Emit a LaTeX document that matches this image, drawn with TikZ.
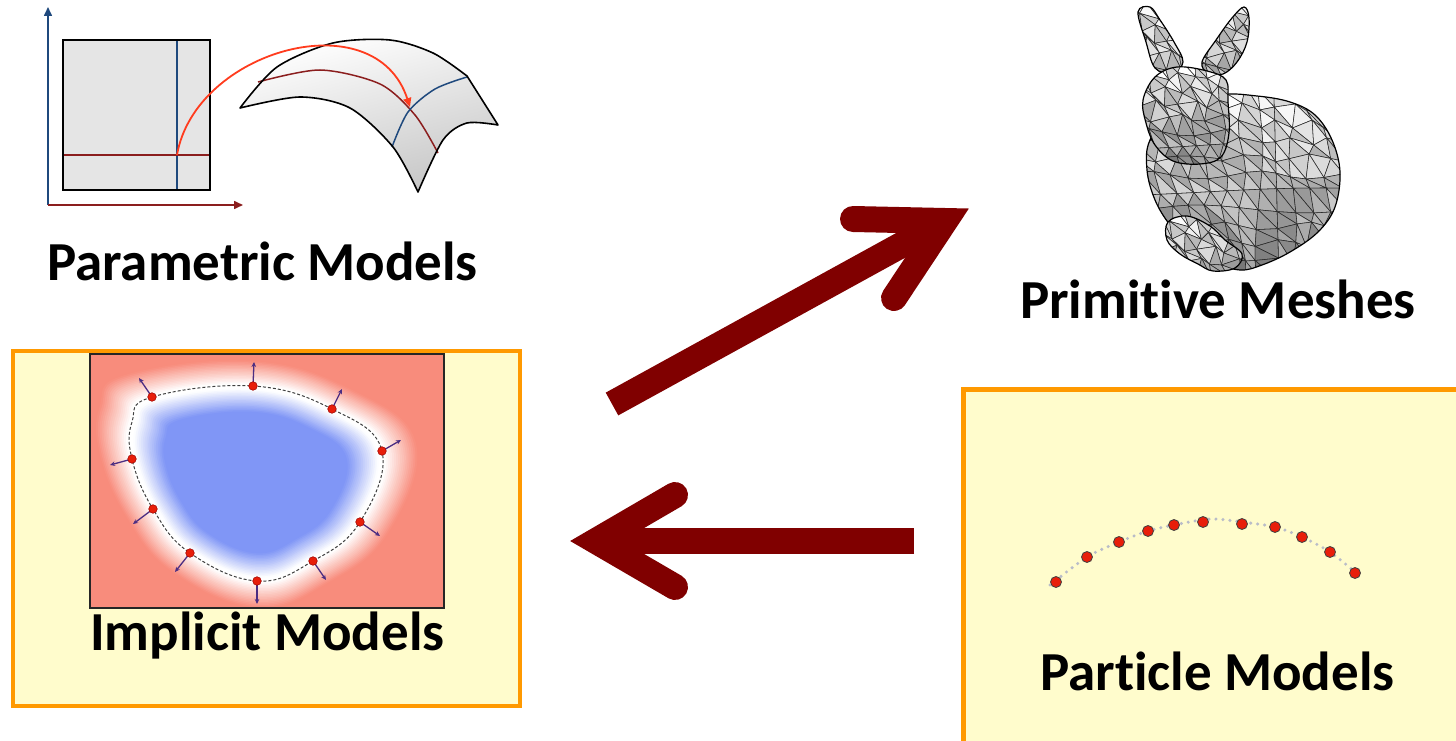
\documentclass[tikz,border=0pt]{standalone}
\usepackage{fontspec}
\setmainfont{Carlito}[Ligatures={NoCommon,NoContextual}, RawFeature={-liga;-calt;-dlig;-clig}]
\usetikzlibrary{arrows.meta}

\definecolor{boxorange}{RGB}{255,153,0}
\definecolor{boxfill}{RGB}{255,252,204}
\definecolor{arrowmaroon}{RGB}{128,0,0}
\definecolor{fieldsalmon}{RGB}{248,140,124}
\definecolor{fieldblue}{RGB}{128,150,246}
\definecolor{axisblue}{RGB}{31,73,125}
\definecolor{axisred}{RGB}{139,30,30}
\definecolor{pathred}{RGB}{255,60,30}
\definecolor{dotred}{RGB}{232,30,10}
\definecolor{normalpurple}{RGB}{75,45,130}
\definecolor{trailgray}{RGB}{185,188,200}

% "t" followed by "i" without the font's joined glyph
\newcommand\ti{t\kern0pt i}

% one jittered vertex of a triangle grid: x0, y0, cell, i, j, name
\newcommand\meshvertex[6]{%
  \pgfmathsetmacro\vx{#1+(#4)*#3+4*sin(37*(#4)*(#5)+131*(#4)+71*(#5))}%
  \pgfmathsetmacro\vy{#2+(#5)*#3+4*cos(43*(#4)*(#5)+89*(#4)+113*(#5))}%
  \coordinate (#6) at (\vx,\vy);}

% a meshed part of the bunny: outline, x0, y0, nx, ny, cell, base shade, shade gradient
\newcommand\bunnypart[8]{%
  \begin{scope}
    \clip plot[smooth cycle, tension=0.6] coordinates {#1};
    \fill[white] (#2,#3) rectangle ++({(#4+1)*#6},{(#5+1)*#6});
    \foreach \i in {0,...,#4}{%
      \foreach \j in {0,...,#5}{%
        \pgfmathtruncatemacro\ip{\i+1}%
        \pgfmathtruncatemacro\jp{\j+1}%
        \meshvertex{#2}{#3}{#6}{\i}{\j}{pA}%
        \meshvertex{#2}{#3}{#6}{\ip}{\j}{pB}%
        \meshvertex{#2}{#3}{#6}{\i}{\jp}{pC}%
        \meshvertex{#2}{#3}{#6}{\ip}{\jp}{pD}%
        \pgfmathtruncatemacro\ga{min(75,#7+#8*\j/#5+20*(0.5+0.5*sin(211*\i+157*\j+29*\i*\j)))}%
        \pgfmathtruncatemacro\gb{min(75,#7+#8*\j/#5+20*(0.5+0.5*cos(173*\i+97*\j+41*\i*\j)))}%
        \filldraw[meshedge, fill=black!\ga!white] (pA) -- (pB) -- (pD) -- cycle;
        \filldraw[meshedge, fill=black!\gb!white] (pA) -- (pD) -- (pC) -- cycle;
      }}
  \end{scope}
  \draw[line width=1.2, line join=round] plot[smooth cycle, tension=0.6] coordinates {#1};}

% one ring of the implicit field
\newcommand\fieldring[1]{%
  \fill[#1] plot[smooth cycle, tension=0.7] coordinates {(-102,-83) (-1,-94) (78,-71) (128,-29) (106,42) (59,81) (3,101) (-64,73) (-101,29) (-122,-21) (-122,-58)};}

% outline of the parametric surface patch
\newcommand\surfacepatch[1]{%
  \path[#1] (240,108) -- plot[smooth] coordinates {(240,108) (277,67) (333,43) (390,40) (433,53) (467,76)}
  -- (498,125) -- plot[smooth] coordinates {(498,125) (467,123) (443,140) (418,192)}
  -- plot[smooth] coordinates {(418,192) (393,147) (350,108) (300,97) (240,108)} -- cycle;}

\begin{document}
\begin{tikzpicture}[x=1pt, y=-1pt,
  lbl/.style={font=\fontsize{55}{60}\selectfont\bfseries, inner sep=0pt, anchor=base west},
  bigarrow/.style={arrowmaroon, line width=26pt},
  modelbox/.style={draw=boxorange, fill=boxfill, line width=4.5pt},
  normalvec/.style={normalpurple, line width=1.3pt, -{Stealth[length=5pt, width=4.5pt]}},
  meshedge/.style={draw=black!85, line width=0.55pt, line join=round},
  axis/.style={line width=1.6pt, -{Triangle[length=9pt, width=8pt]}},
  sample/.style={fill=dotred, draw=red!60!black, line width=0.5pt},
  particle/.style={fill=dotred, draw=black!75, line width=0.8pt}]

\useasboundingbox (0,0) rectangle (1456,741);
\clip (0,0) rectangle (1456,741);
\fill[white] (0,0) rectangle (1456,741);

% ---------- parametric model ----------
\fill[gray!20] (63,40) rectangle (210,190);
\draw[axisblue, line width=1.5pt] (177,40) -- (177,190);
\draw[axisred, line width=1.5pt] (63,155) -- (210,155);
\draw[line width=1.6pt] (63,40) rectangle (210,190);
\coordinate (origin) at (48,205);
\coordinate (vaxis) at (48,7);
\coordinate (uaxis) at (243,205);
\draw[axis, axisblue] (origin) -- (vaxis);
\draw[axis, axisred] (origin) -- (uaxis);

\surfacepatch{top color=white, bottom color=gray!45, shading=axis, shading angle=15}
\draw[axisred, line width=1.5pt] plot[smooth] coordinates {(258,82) (320,70) (380,84) (415,115) (438,153)};
\draw[axisblue, line width=1.5pt] plot[smooth] coordinates {(392,147) (408,112) (435,89) (467,77)};
\surfacepatch{draw, line width=1.6pt, line join=round}
\coordinate (uv) at (177,155);
\coordinate (suv) at (410,107);
\draw[pathred, line width=1.8pt, -{Triangle[length=9pt, width=8pt]}]
  (uv) .. controls (195,50) and (375,0) .. (suv);
\node[lbl] (paramlabel) at (47,280) {Parametric Models};

% ---------- primitive meshes ----------
\bunnypart{(1220,95) (1257,96) (1290,102) (1315,115) (1332,140) (1340,172) (1335,207) (1318,232) (1290,252) (1262,265) (1240,270) (1215,262) (1190,245) (1170,225) (1155,200) (1147,170) (1150,140) (1175,110)}{1140}{90}{12}{11}{17}{0}{38}
\bunnypart{(1138,12) (1150,7) (1160,20) (1174,42) (1183,62) (1172,73) (1155,68) (1146,42)}{1130}{2}{5}{6}{13}{2}{15}
\bunnypart{(1202,62) (1216,40) (1232,18) (1244,7) (1249,18) (1247,42) (1237,62) (1223,74) (1208,73)}{1195}{2}{4}{6}{13}{6}{15}
\bunnypart{(1168,222) (1187,216) (1210,226) (1225,240) (1242,254) (1235,268) (1213,271) (1198,264) (1180,254) (1167,240)}{1160}{210}{7}{5}{13}{2}{22}
\bunnypart{(1155,77) (1177,67) (1207,71) (1226,80) (1228,102) (1229,133) (1221,157) (1200,164) (1173,161) (1155,145) (1146,123) (1143,100)}{1138}{62}{7}{8}{14}{0}{40}
\node[lbl] (meshlabel) at (1020,318) {Primi\ti ve Meshes};

% ---------- implicit model ----------
\draw[modelbox] (13,351) rectangle (520,706);
\begin{scope}
  \clip (90,354) rectangle (444,608);
  \fill[fieldsalmon] (90,354) rectangle (444,608);
  \foreach \s in {1.40,1.385,...,0.55}{%
    \pgfmathtruncatemacro\pr{max(0,min(100,(\s-1.02)/0.25*100))}%
    \pgfmathtruncatemacro\pb{max(0,min(100,(0.97-\s)/0.24*100))}%
    \pgfmathparse{\s>=1 ? 1 : 0}%
    \ifnum\pgfmathresult=1
      \begin{scope}[shift={(254,480)}, scale=\s]\fieldring{fieldsalmon!\pr!white}\end{scope}
    \else
      \begin{scope}[shift={(254,480)}, scale=\s]\fieldring{fieldblue!\pb!white}\end{scope}
    \fi
  }
\end{scope}
\draw[gray!30!black, line width=1.4pt] (90,354) rectangle (444,608);
\draw[gray!50!black, line width=1pt, dash pattern=on 3pt off 2pt]
  plot[smooth cycle, tension=0.7] coordinates {(152,397) (253,386) (332,409) (382,451) (360,522) (313,561) (257,581) (190,553) (153,509) (132,459) (132,422)};
\foreach \n/\px/\py/\qx/\qy in {1/152/397/139/378, 2/253/386/254/362, 3/332/409/342/389,
    4/382/451/401/440, 5/360/522/380/536, 6/313/561/326/580, 7/257/581/257/604,
    8/190/553/175/572, 9/153/509/133/524, 10/132/459/110/465}{%
  \coordinate (s\n) at (\px,\py);
  \coordinate (v\n) at (\qx,\qy);
  \draw[normalvec] (s\n) -- (v\n);
  \filldraw[sample] (s\n) circle (4.3);
}
\node[lbl] (implabel) at (90,650) {Implicit Models};

% ---------- particle model ----------
\draw[modelbox, line width=5pt] (963,389) rectangle (1480,770);
\draw[trailgray, line width=3.4pt, line cap=round, dash pattern=on 0pt off 7pt]
  plot[smooth] coordinates {(1050,585) (1087,557) (1119,542) (1148,531) (1174,525) (1210,519) (1242,522) (1275,527) (1302,537) (1330,552) (1355,572)};
\foreach \n/\px/\py in {1/1056/582, 2/1087/557, 3/1119/542, 4/1148/531, 5/1174/525, 6/1203/522,
    7/1242/524, 8/1275/527, 9/1302/537, 10/1330/552, 11/1355/573}{%
  \filldraw[particle] (\px,\py) circle (5.5) coordinate (q\n);
}
\node[lbl] (partlabel) at (1040,690) {Par\ti cle Models};

% ---------- conversions ----------
\coordinate (a1s) at (612,404);
\coordinate (a1p) at (945,221);
\coordinate (a1b) at (853,219);
\coordinate (a1c) at (894,298);
\draw[bigarrow, line cap=butt] (a1s) -- (a1p);
\draw[bigarrow, line cap=round, line join=miter] (a1b) -- (a1p) -- (a1c);

\coordinate (a2s) at (914,541);
\coordinate (a2p) at (596,541);
\coordinate (a2b) at (675,495);
\coordinate (a2c) at (675,587);
\draw[bigarrow, line cap=butt] (a2s) -- (a2p);
\draw[bigarrow, line cap=round, line join=miter] (a2b) -- (a2p) -- (a2c);
\end{tikzpicture}
\end{document}
